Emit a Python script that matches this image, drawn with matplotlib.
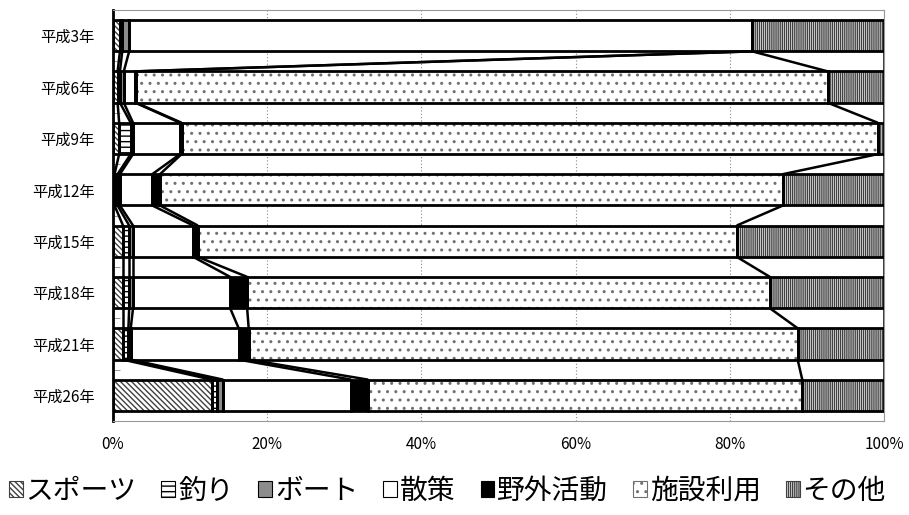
import numpy as np
import matplotlib.pyplot as plt
from matplotlib.patches import Patch

plt.rcParams['font.family'] = ['Noto Sans CJK JP', 'DejaVu Sans']
plt.rcParams['hatch.linewidth'] = 1.0

# 利用目的の構成比 (%)
years = ['平成3年', '平成6年', '平成9年', '平成12年', '平成15年', '平成18年', '平成21年', '平成26年']
categories = ['スポーツ', '釣り', 'ボート', '散策', '野外活動', '施設利用', 'その他']

sports = [0.9, 0.6, 0.8, 0.2, 1.3, 1.3, 1.3, 12.8]
fishing = [0.3, 0.3, 1.5, 0.4, 0.8, 0.8, 0.7, 0.7]
boat = [0.9, 0.5, 0.3, 0.3, 0.5, 0.5, 0.3, 0.8]
walk = [80.8, 1.5, 6.1, 4.2, 7.8, 12.6, 14.0, 16.6]
outdoor = [0.0, 0.1, 0.2, 1.0, 0.6, 2.2, 1.3, 2.2]
facility = [0.0, 89.7, 90.3, 80.8, 69.9, 67.8, 71.2, 56.3]
other = [17.1, 7.3, 0.8, 13.1, 19.1, 14.8, 11.2, 10.6]

xticks = [0, 20, 40, 60, 80, 100]

series = [sports, fishing, boat, walk, outdoor, facility, other]
fills = ['white', 'white', '#8c8c8c', 'white', 'black', 'white', 'white']
hatches = ['\\' * 6, '---', None, None, None, '..', '|' * 8]
hatch_colors = ['#404040', 'black', '#8c8c8c', 'white', 'black', '#707070', '#404040']

fig, ax = plt.subplots(figsize=(9.09, 5.15), dpi=100)
fig.subplots_adjust(left=0.1243, right=0.9725, bottom=0.1825, top=0.9806)

y = np.arange(len(years))
bar_h = 0.61
left = np.zeros(len(years))
ends = []
for vals, fc, hatch, hc in zip(series, fills, hatches, hatch_colors):
    vals = np.array(vals)
    ax.barh(y, vals, bar_h, left=left, color=fc, hatch=hatch,
            edgecolor=hc, linewidth=0, zorder=2)
    ax.barh(y, vals, bar_h, left=left, fill=False,
            edgecolor='black', linewidth=2.0, zorder=3)
    left = left + vals
    ends.append(left.copy())

# 区分線 (series lines)
for e in ends:
    for i in range(len(years) - 1):
        ax.plot([e[i], e[i + 1]], [y[i] + bar_h / 2, y[i + 1] - bar_h / 2],
                color='black', lw=1.8, zorder=3, solid_capstyle='butt')

ax.set_xlim(0, 100)
ax.set_ylim(len(years) - 0.5, -0.5)
ax.set_xticks(xticks)
ax.set_xticklabels([f'{v}%' for v in xticks])
ax.set_yticks(y)
ax.set_yticklabels(years)
ax.set_yticks(np.arange(len(years) + 1) - 0.5, minor=True)

ax.tick_params(axis='x', length=0, pad=11, labelsize=11)
ax.tick_params(axis='y', which='major', length=0, pad=13, labelsize=11)
ax.tick_params(axis='y', which='minor', direction='in', length=5, color='#888888')

ax.set_axisbelow(True)
ax.xaxis.grid(True, linestyle=(0, (1, 2)), color='#888888', lw=0.8)

for side in ['top', 'right', 'bottom']:
    ax.spines[side].set_color('#999999')
    ax.spines[side].set_linewidth(0.8)
ax.spines['left'].set_color('black')
ax.spines['left'].set_linewidth(2.0)

handles = [Patch(facecolor=fc, hatch=h, edgecolor='black' if h is None else hc, linewidth=0.8)
           for fc, h, hc in zip(fills, hatches, hatch_colors)]
fig.legend(handles, categories, loc='center', bbox_to_anchor=(0.492, 1 - 491 / 515),
           ncol=7, frameon=False, fontsize=20, handlelength=0.5, handleheight=0.5,
           handletextpad=0.1, columnspacing=0.9, borderaxespad=0, borderpad=0)

fig.savefig('out.png', dpi=100)
